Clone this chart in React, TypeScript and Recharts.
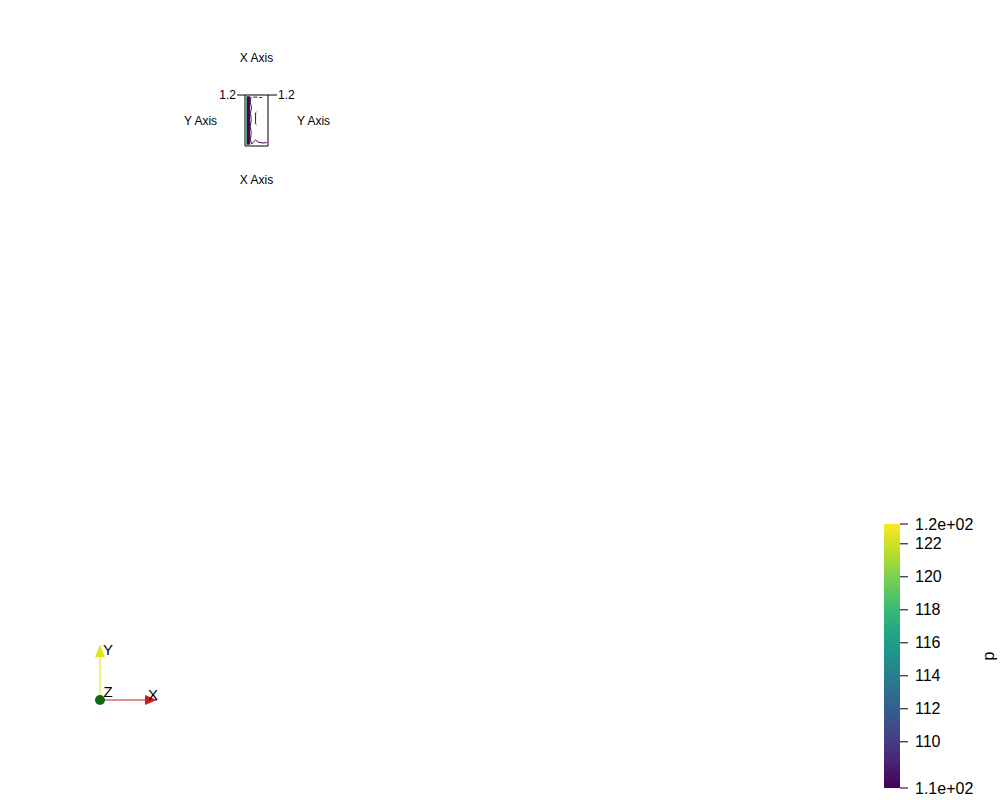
import React from "react";
import { ComposedChart, ScatterChart, BarChart, Bar, Scatter, XAxis, YAxis } from "recharts";

// contour lines inside the small plot box (x: 0..1, y: 0..1.2)
const boxYTicks = [1.2];
const greenEdge = [{ x: 0.05, y: 0.02 }, { x: 0.05, y: 1.18 }];
const purpleBand = [{ x: 0.15, y: 0.03 }, { x: 0.15, y: 1.17 }];
const purpleRidge = [
  { x: 0.26, y: 1.16 }, { x: 0.23, y: 1.02 }, { x: 0.28, y: 0.92 }, { x: 0.24, y: 0.76 },
  { x: 0.27, y: 0.62 }, { x: 0.23, y: 0.46 }, { x: 0.27, y: 0.32 }, { x: 0.24, y: 0.16 }, { x: 0.28, y: 0.04 },
];
const midContour = [{ x: 0.5, y: 0.8 }, { x: 0.46, y: 0.78 }, { x: 0.46, y: 0.52 }, { x: 0.5, y: 0.5 }];
const topContour = [{ x: 0.36, y: 1.15 }, { x: 0.56, y: 1.15 }, { x: 0.62, y: 1.14 }, { x: 0.74, y: 1.14 }];
const bottomContour = [
  { x: 0.3, y: 0.05 }, { x: 0.38, y: 0.1 }, { x: 0.46, y: 0.14 }, { x: 0.58, y: 0.09 },
  { x: 0.78, y: 0.07 }, { x: 0.95, y: 0.08 },
];

// colour bar for p
const pRange = [{ name: "p", range: [107.2, 123.2] }];
const pTicks = [107.2, 110, 112, 114, 116, 118, 120, 122, 123.2];
const pTickLabels = ["1.1e+02", "110", "112", "114", "116", "118", "120", "122", "1.2e+02"];

// orientation triad
const triadOrigin = [{ x: 0, y: 0, label: "Z" }];
const triadX = [{ x: 0, y: 0, label: "" }, { x: 1, y: 0, label: "X" }];
const triadY = [{ x: 0, y: 0, label: "" }, { x: 0, y: 1, label: "Y" }];

const viridis = ["#fde725", "#bddf26", "#7ad151", "#44bf70", "#22a884", "#21918c", "#2a788e", "#355f8d", "#414487", "#482475", "#440154"];

const noDot = () => <g />;

const xCone = (p: any) => {
  if (!p.payload.label) return <g />;
  const { cx, cy } = p;
  return (
    <g>
      <polygon points={`${cx},${cy} ${cx - 12},${cy - 5} ${cx - 12},${cy + 5}`} fill="#d11f1f" />
      <text x={cx - 4} y={cy} fontSize={15} fill="#000" textAnchor="middle">{p.payload.label}</text>
    </g>
  );
};

const yCone = (p: any) => {
  if (!p.payload.label) return <g />;
  const { cx, cy } = p;
  return (
    <g>
      <polygon points={`${cx},${cy} ${cx - 5},${cy + 12} ${cx + 5},${cy + 12}`} fill="#e2e21a" />
      <text x={cx + 8} y={cy + 10} fontSize={15} fill="#000" textAnchor="middle">{p.payload.label}</text>
    </g>
  );
};

const originDot = (p: any) => (
  <g>
    <circle cx={p.cx} cy={p.cy} r={5} fill="#0b6b12" />
    <text x={p.cx + 8} y={p.cy - 3} fontSize={15} fill="#000" textAnchor="middle">{p.payload.label}</text>
  </g>
);

export default function App() {
  const axisLabel = { fontSize: 12, fill: "#000" };
  return (
    <div style={{ position: "absolute", left: 0, top: 0, width: 1000, height: 800, background: "#fff", fontFamily: "Liberation Sans, Arial, sans-serif" }}>
      <div style={{ position: "absolute", left: 0, top: 0 }}>
        <ComposedChart width={400} height={250} margin={{ top: 21, right: 41, bottom: 36, left: 156 }}>
          <XAxis xAxisId="top" dataKey="x" orientation="top" type="number" domain={[0, 1]} height={74} tick={false} tickLine={false}
            axisLine={{ stroke: "#000" }} label={{ value: "X Axis", position: "center", ...axisLabel }} />
          <XAxis xAxisId="bottom" dataKey="x" orientation="bottom" type="number" domain={[0, 1]} height={68} tick={false} tickLine={false}
            axisLine={{ stroke: "#000" }} label={{ value: "X Axis", position: "center", ...axisLabel }} />
          <YAxis yAxisId="left" dataKey="y" orientation="left" type="number" domain={[0, 1.2]} ticks={boxYTicks} interval={0} width={89}
            tickSize={8} tickMargin={1} tick={{ fontSize: 12, fill: "#000" }} tickLine={{ stroke: "#000" }}
            axisLine={{ stroke: "#000" }} label={{ value: "Y Axis", position: "center", ...axisLabel }} />
          <YAxis yAxisId="right" dataKey="y" orientation="right" type="number" domain={[0, 1.2]} ticks={boxYTicks} interval={0} width={91}
            tickSize={9} tickMargin={1} tick={{ fontSize: 12, fill: "#000" }} tickLine={{ stroke: "#000" }}
            axisLine={{ stroke: "#000" }} label={{ value: "Y Axis", position: "center", ...axisLabel }} />
          <Scatter xAxisId="bottom" yAxisId="left" data={greenEdge} dataKey="y" shape={noDot} line={{ stroke: "#45a878", strokeWidth: 1.5 }} isAnimationActive={false} />
          <Scatter xAxisId="bottom" yAxisId="left" data={purpleBand} dataKey="y" shape={noDot} line={{ stroke: "#440154", strokeWidth: 3 }} isAnimationActive={false} />
          <Scatter xAxisId="bottom" yAxisId="left" data={purpleRidge} dataKey="y" shape={noDot} line={{ stroke: "#46085c", strokeWidth: 1 }} isAnimationActive={false} />
          <Scatter xAxisId="bottom" yAxisId="left" data={midContour} dataKey="y" shape={noDot} line={{ stroke: "#46085c", strokeWidth: 1 }} isAnimationActive={false} />
          <Scatter xAxisId="top" yAxisId="right" data={topContour} dataKey="y" shape={noDot} line={{ stroke: "#46085c", strokeWidth: 1, strokeDasharray: "4 2" }} isAnimationActive={false} />
          <Scatter xAxisId="top" yAxisId="right" data={bottomContour} dataKey="y" shape={noDot} line={{ stroke: "#46085c", strokeWidth: 1 }} isAnimationActive={false} />
        </ComposedChart>
      </div>

      <div style={{ position: "absolute", left: 860, top: 500 }}>
        <BarChart width={140} height={300} data={pRange} margin={{ top: 24, right: 0, bottom: 12, left: 24 }} barCategoryGap={0}>
          <defs>
            <linearGradient id="viridis" x1="0" y1="0" x2="0" y2="1">
              {viridis.map((c, i) => (
                <stop key={c} offset={i / (viridis.length - 1)} stopColor={c} />
              ))}
            </linearGradient>
          </defs>
          <XAxis dataKey="name" hide />
          <YAxis orientation="right" type="number" domain={[107.2, 123.2]} ticks={pTicks} interval={0} width={100}
            tickFormatter={(v: number) => pTickLabels[pTicks.indexOf(v)] ?? String(v)}
            tickSize={8} tickMargin={7} axisLine={false} tickLine={{ stroke: "#000" }}
            tick={{ fontSize: 16, fill: "#000" }}
            label={{
              content: (props: any) => {
                const vb = props.viewBox;
                const x = vb.x + 88;
                const y = vb.y + vb.height / 2;
                return (
                  <text x={x} y={y} fontSize={16} fill="#000" textAnchor="middle" dominantBaseline="central" transform={`rotate(-90, ${x}, ${y})`}>p</text>
                );
              },
            }} />
          <Bar dataKey="range" fill="url(#viridis)" isAnimationActive={false} />
        </BarChart>
      </div>

      <div style={{ position: "absolute", left: 80, top: 630 }}>
        <ScatterChart width={100} height={90} margin={{ top: 15, right: 23, bottom: 20, left: 20 }}>
          <XAxis type="number" dataKey="x" domain={[0, 1]} hide />
          <YAxis type="number" dataKey="y" domain={[0, 1]} hide />
          <Scatter data={triadY} shape={yCone} line={{ stroke: "#eeee55", strokeWidth: 1.5 }} isAnimationActive={false} />
          <Scatter data={triadX} shape={xCone} line={{ stroke: "#c81e1e", strokeWidth: 1 }} isAnimationActive={false} />
          <Scatter data={triadOrigin} shape={originDot} isAnimationActive={false} />
        </ScatterChart>
      </div>
    </div>
  );
}
